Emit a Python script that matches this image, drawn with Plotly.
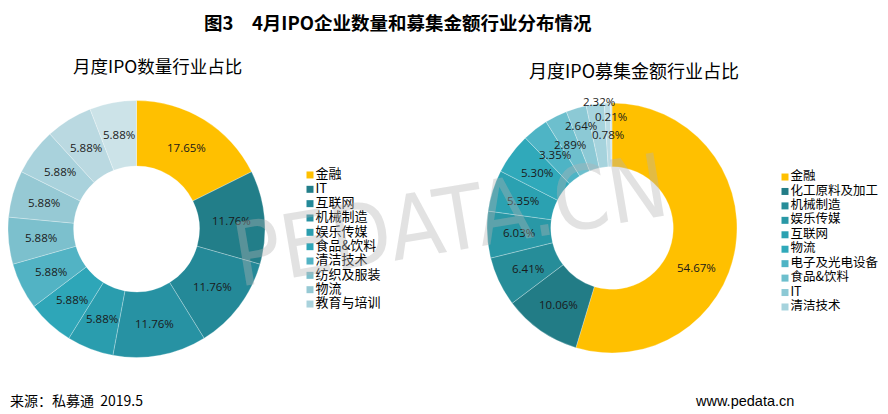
import math

import plotly.graph_objects as go

# 月度IPO数量行业占比（%）
LABELS_NUM = ["金融", "IT", "互联网", "机械制造", "娱乐传媒", "食品&饮料",
              "清洁技术", "纺织及服装", "物流", "教育与培训", "其他一", "其他二"]
VALUES_NUM = [17.65, 11.76, 11.76, 11.76, 5.88, 5.88,
              5.88, 5.88, 5.88, 5.88, 5.88, 5.88]

# 月度IPO募集金额行业占比（%）
LABELS_AMT = ["金融", "化工原料及加工", "机械制造", "娱乐传媒", "互联网", "物流",
              "电子及光电设备", "食品&饮料", "IT", "清洁技术", "其他一", "其他二"]
VALUES_AMT = [54.67, 10.06, 6.41, 6.03, 5.35, 5.30,
              3.35, 2.89, 2.64, 2.32, 0.78, 0.21]

# 图例只显示前十项（与原图一致）
N_LEGEND = 10

COLORS_NUM = ["#FFC000", "#227E89", "#248998", "#2792A3", "#2A9DAE", "#2EA6B8",
              "#52B3C4", "#7CC0CD", "#96C9D4", "#A9D2DC", "#BAD9E1", "#CCE3E8"]
COLORS_AMT = ["#FFC000", "#227C86", "#268D99", "#2998A6", "#2BA1B1", "#30A9BA",
              "#4EB4C5", "#6DBFCD", "#8CC9D5", "#A6D3DD", "#BCDCE4", "#CEE5EA"]

# 小扇区标签的错位（径向像素 / 角度），模仿原图标签避让
PUSH_AMT = [0, 0, 0, 0, 0, 0, 0, 0, 14, 34, 0, 18]
SHIFT_AMT = [17, 0, 0, 0, 0, 0, 0, 0, 0, 2, 0, 0]

CJK = "Noto Sans CJK SC"
NUM_FONT = "Open Sans"

W, H = 880, 406
HOLE = 0.49

# 两个环形图的中心和半径（像素）
LEFT_C, LEFT_R = (128.5, 221.0), 128.5
RIGHT_C, RIGHT_R = (604.0, 220.0), 125.0


def dominio(c, r):
    cx, cy = c
    return dict(x=[(cx - r) / W, (cx + r) / W], y=[1 - (cy + r) / H, 1 - (cy - r) / H])


def etiquetas(values, c, r_out, push=None, shift=None):
    """数据标签放在环的中线上、扇区的中心角处。"""
    cx, cy = c
    n = len(values)
    push = push or [0] * n
    shift = shift or [0] * n
    total = sum(values)
    r_mid = r_out * (1 + HOLE) / 2
    acc = 0
    out = []
    for v, dr, da in zip(values, push, shift):
        theta = math.radians((acc + v / 2) / total * 360 + da)
        acc += v
        r = r_mid + dr
        x = cx + r * math.sin(theta)
        y = cy - r * math.cos(theta)
        out.append(
            dict(
                x=x / W, y=1 - y / H, xref="paper", yref="paper",
                xanchor="center", yanchor="middle", showarrow=False,
                text=f"{v:.2f}%",
                font=dict(family=NUM_FONT, size=11.5, color="#1a1a1a"),
            )
        )
    return out


fig = go.Figure()

for labels, values, colors, c, r in [
    (LABELS_NUM, VALUES_NUM, COLORS_NUM, LEFT_C, LEFT_R),
    (LABELS_AMT, VALUES_AMT, COLORS_AMT, RIGHT_C, RIGHT_R),
]:
    fig.add_trace(
        go.Pie(
            labels=labels,
            values=values,
            sort=False,
            direction="clockwise",
            rotation=0,
            hole=HOLE,
            domain=dominio(c, r),
            marker=dict(colors=colors, line=dict(color="rgba(255,255,255,0.45)", width=0.6)),
            textinfo="none",
            showlegend=False,
            hoverinfo="label+percent",
        )
    )

# 自制图例：用散点画方块和文字
for labels, colors, xa, ya, fsize in [
    (LABELS_NUM, COLORS_NUM, "x", "y", 13),
    (LABELS_AMT, COLORS_AMT, "x2", "y2", 12.5),
]:
    fig.add_trace(
        go.Scatter(
            x=[0] * N_LEGEND,
            y=list(range(N_LEGEND)),
            mode="markers+text",
            marker=dict(symbol="square", size=7, color=colors[:N_LEGEND]),
            text=labels[:N_LEGEND],
            textposition="middle right",
            textfont=dict(family=CJK, size=fsize, color="#000000"),
            cliponaxis=False,
            showlegend=False,
            hoverinfo="skip",
            xaxis=xa,
            yaxis=ya,
        )
    )

hidden = dict(visible=False, showgrid=False, zeroline=False, fixedrange=True)

anotaciones = [
    dict(
        x=390 / W, y=1 - 13.5 / H, xref="paper", yref="paper",
        xanchor="center", yanchor="middle", showarrow=False,
        text="<b>图3　4月IPO企业数量和募集金额行业分布情况</b>",
        font=dict(family=CJK, size=18.5, color="#000000"),
    ),
    dict(
        x=149 / W, y=1 - 57 / H, xref="paper", yref="paper",
        xanchor="center", yanchor="middle", showarrow=False,
        text="月度IPO数量行业占比",
        font=dict(family=CJK, size=17.5, color="#000000"),
    ),
    dict(
        x=626 / W, y=1 - 62 / H, xref="paper", yref="paper",
        xanchor="center", yanchor="middle", showarrow=False,
        text="月度IPO募集金额行业占比",
        font=dict(family=CJK, size=18, color="#000000"),
    ),
    dict(
        x=0, y=1 - 392 / H, xref="paper", yref="paper",
        xanchor="left", yanchor="middle", showarrow=False,
        text="来源：私募通  2019.5",
        font=dict(family=CJK, size=14, color="#000000"),
    ),
    dict(
        x=685 / W, y=1 - 393 / H, xref="paper", yref="paper",
        xanchor="left", yanchor="middle", showarrow=False,
        text="www.pedata.cn",
        font=dict(family="Liberation Sans Narrow, Liberation Sans", size=14.5, color="#000000"),
    ),
]
anotaciones += etiquetas(VALUES_NUM, LEFT_C, LEFT_R)
anotaciones += etiquetas(VALUES_AMT, RIGHT_C, RIGHT_R, PUSH_AMT, SHIFT_AMT)
# 水印
anotaciones.append(
    dict(
        x=442 / W, y=1 - 212 / H, xref="paper", yref="paper",
        xanchor="center", yanchor="middle", showarrow=False,
        text="PEDATA.CN",
        textangle=-9.5,
        font=dict(family="Liberation Sans Narrow, DejaVu Sans Condensed, Liberation Sans",
                  size=88, color="rgba(180,180,180,0.38)"),
    )
)

fig.update_layout(
    width=W,
    height=H,
    margin=dict(l=0, r=0, t=0, b=0),
    paper_bgcolor="#FFFFFF",
    plot_bgcolor="rgba(0,0,0,0)",
    xaxis=dict(domain=[302 / W, 420 / W], range=[0, 1], **hidden),
    yaxis=dict(domain=[1 - 303.2 / H, 1 - 159.8 / H], range=[N_LEGEND - 0.5, -0.5], **hidden),
    xaxis2=dict(domain=[777 / W, 879 / W], range=[0, 1], anchor="y2", **hidden),
    yaxis2=dict(domain=[1 - 306.2 / H, 1 - 161.8 / H], range=[N_LEGEND - 0.5, -0.5], anchor="x2", **hidden),
    annotations=anotaciones,
)

fig.write_html("out.html")
